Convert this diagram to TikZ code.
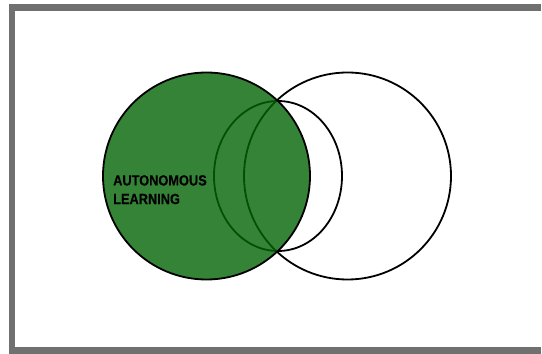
\documentclass[tikz,border=0pt]{standalone}
\usepackage{fontspec}
\setmainfont{Liberation Sans}
\newfontfamily\rotulofont[FakeStretch=0.87,FakeBold=0.4]{Liberation Sans}
\usepackage{xcolor}
\definecolor{verde}{RGB}{3,100,5}
\definecolor{moldura}{RGB}{112,112,112}

\begin{document}
\begin{tikzpicture}[x=1pt,y=1pt]
		\useasboundingbox (0,0) rectangle (542,354);
%		moldura (sem lado direito)
		\draw[moldura,line width=6.5pt] (540.5,346.5) -- (12,346.5) -- (12,3.5) -- (540.5,3.5);
		
%		circulo maior direito e circulo menor
		\def\r{103.5}
		\path[draw,line width=1.8pt] (347.5,178) circle (\r);
		\path[draw,line width=1.8pt] (278,178) ellipse (64 and 75);
		
%		circulo verde
		\path[fill=verde,opacity=0.8] (206.5,178) circle (\r);
		\path[draw,line width=1.8pt] (206.5,178) circle (\r);
		
		\node[anchor=north west,inner sep=0pt,align=left,font=\rotulofont\bfseries\fontsize{14.7}{18.6}\selectfont] (rotulo) at (113,179) {AUTONOMOUS\\LEARNING};
\end{tikzpicture}
\end{document}
